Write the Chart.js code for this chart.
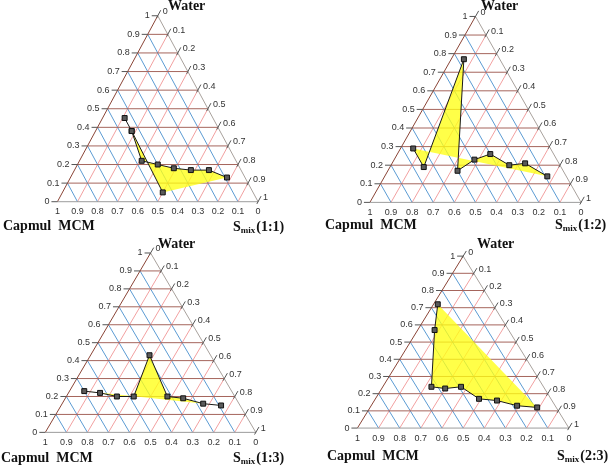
<html>
<head>
    <script src="https://cdn.jsdelivr.net/npm/chart.js"></script>
    <style>
        body { margin: 0; background: #fff; }
        #wrap { position: relative; width: 609px; height: 468px; }
        #wrap canvas { position: absolute; left: 0; top: 0; }
    </style>
</head>
<body>
<div id="wrap">
    <canvas id="c1" width="609" height="468"></canvas>
    <canvas id="c2" width="609" height="468"></canvas>
    <canvas id="c3" width="609" height="468"></canvas>
    <canvas id="c4" width="609" height="468"></canvas>
</div>
<script>
    // grid / tick values shared by the three sides of every triangle
    const tickValues = [0, 0.1, 0.2, 0.3, 0.4, 0.5, 0.6, 0.7, 0.8, 0.9, 1];
    const tickLabels = ['0', '0.1', '0.2', '0.3', '0.4', '0.5', '0.6', '0.7', '0.8', '0.9', '1'];

    // boundary points, mass fractions (Smix = 1 - water - capmul)
    const water1 = [0.45, 0.38, 0.22, 0.20, 0.18, 0.17, 0.17, 0.13, 0.05];
    const capmul1 = [0.44, 0.44, 0.47, 0.40, 0.33, 0.25, 0.16, 0.09, 0.45];

    const water2 = [0.29, 0.19, 0.77, 0.17, 0.23, 0.26, 0.20, 0.21, 0.14];
    const capmul2 = [0.65, 0.65, 0.17, 0.50, 0.39, 0.30, 0.24, 0.16, 0.09];

    const water3 = [0.23, 0.22, 0.20, 0.20, 0.43, 0.20, 0.19, 0.16, 0.15];
    const capmul3 = [0.70, 0.63, 0.56, 0.48, 0.29, 0.32, 0.25, 0.17, 0.09];

    const water4 = [0.72, 0.57, 0.24, 0.23, 0.24, 0.17, 0.16, 0.13, 0.12];
    const capmul4 = [0.26, 0.35, 0.53, 0.47, 0.39, 0.34, 0.26, 0.18, 0.09];

    const ratios = ['1:1', '1:2', '1:3', '2:3'];

    const all9 = [0, 1, 2, 3, 4, 5, 6, 7, 8];
    const panels = [
        { id: 'c1', water: water1, capmul: capmul1, ratio: ratios[0],
          lines: [[0, 1, 2, 3, 4, 5, 6, 7], [1, 8]], fill: [1, 2, 3, 4, 5, 6, 7, 8],
          box: { left: 53.3, width: 204, base: 201, height: 190 },
          waterAt: [168, 10], capmulAt: [3, 230], smixAt: [233, 231] },
        { id: 'c2', water: water2, capmul: capmul2, ratio: ratios[1],
          lines: [all9], fill: all9,
          box: { left: 371, width: 214.7, base: 201.7, height: 190 },
          waterAt: [481, 10], capmulAt: [325, 229], smixAt: [555, 229] },
        { id: 'c3', water: water3, capmul: capmul3, ratio: ratios[2],
          lines: [all9], fill: all9,
          box: { left: 41, width: 214, base: 436.7, height: 183.3 },
          waterAt: [158, 248], capmulAt: [1, 462], smixAt: [233, 462] },
        { id: 'c4', water: water4, capmul: capmul4, ratio: ratios[3],
          lines: [all9], fill: all9,
          box: { left: 358.3, width: 215, base: 432.3, height: 175.7 },
          waterAt: [477, 248], capmulAt: [327, 460], smixAt: [557, 460] },
    ];

    function toXY(p, i) {
        const w = p.water[i];
        const s = 1 - w - p.capmul[i];
        return { x: s + w / 2, y: w };
    }

    function framePlugin(p) {
        return {
            id: 'ternaryFrame',
            beforeDatasetsDraw(chart) {
                const ctx = chart.ctx;
                const pt = (s, w) => [chart.scales.x.getPixelForValue(s + w / 2), chart.scales.y.getPixelForValue(w)];
                const seg = (a, b, color) => {
                    ctx.strokeStyle = color;
                    ctx.beginPath();
                    ctx.moveTo(a[0], a[1]);
                    ctx.lineTo(b[0], b[1]);
                    ctx.stroke();
                };
                ctx.save();
                ctx.lineWidth = 1;
                const inner = tickValues.slice(1, -1);
                inner.forEach(v => {
                    seg(pt(v, 0), pt(v, 1 - v), '#f2a0a0');       // constant Smix
                    seg(pt(1 - v, 0), pt(0, 1 - v), '#5b9bd3');   // constant Capmul
                });
                inner.forEach(v => seg(pt(0, v), pt(1 - v, v), '#a5655c')); // constant water
                seg(pt(0, 0), pt(0, 1), '#8a4436');
                seg(pt(0, 1), pt(1, 0), '#a8a19c');
                seg(pt(0, 0), pt(1, 0), '#9c9c9c');
                tickValues.forEach(v => {
                    const l = pt(0, v);
                    seg([l[0] - 6, l[1]], l, '#555');
                    seg(pt(v, 1 - v - 0.012), pt(v, 1 - v + 0.03), '#555');
                });
                ctx.restore();
            },
            afterDatasetsDraw(chart) {
                const ctx = chart.ctx;
                const pt = (s, w) => [chart.scales.x.getPixelForValue(s + w / 2), chart.scales.y.getPixelForValue(w)];
                ctx.save();
                ctx.font = '9px "Liberation Sans", Arial, sans-serif';
                ctx.fillStyle = '#333';
                ctx.textBaseline = 'middle';
                tickValues.forEach((v, i) => {
                    const l = pt(0, v);
                    ctx.textAlign = 'right';
                    ctx.fillText(tickLabels[i], l[0] - 8, l[1]);
                    const r = pt(v, 1 - v);
                    ctx.textAlign = 'left';
                    ctx.fillText(tickLabels[i], r[0] + 5, r[1] - 4);
                    const b = pt(1 - v, 0);
                    ctx.textAlign = 'center';
                    ctx.fillText(tickLabels[i], b[0], b[1] + 10);
                });
                ctx.fillStyle = '#111';
                ctx.textAlign = 'left';
                ctx.textBaseline = 'alphabetic';
                ctx.font = 'bold 14px "Liberation Serif", serif';
                ctx.fillText('Water', p.waterAt[0], p.waterAt[1]);
                ctx.fillText('Capmul  MCM', p.capmulAt[0], p.capmulAt[1]);
                let [sx, sy] = p.smixAt;
                ctx.fillText('S', sx, sy);
                sx += ctx.measureText('S').width;
                ctx.font = 'bold 9px "Liberation Serif", serif';
                ctx.fillText('mix', sx, sy + 2);
                sx += ctx.measureText('mix').width + 1;
                ctx.font = 'bold 14px "Liberation Serif", serif';
                ctx.fillText('(' + p.ratio + ')', sx, sy);
                ctx.restore();
            }
        };
    }

    panels.forEach(p => {
        const b = p.box;
        const datasets = p.lines.map(path => ({
            data: path.map(i => toXY(p, i)),
            borderColor: '#1a1a1a',
            borderWidth: 1,
            fill: false,
            tension: 0,
            pointStyle: 'rect',
            pointRadius: 3.5,
            pointBackgroundColor: '#5a5a5a',
            pointBorderColor: '#111',
            pointBorderWidth: 1,
        }));
        datasets.push({
            data: p.fill.map(i => toXY(p, i)),
            borderWidth: 0,
            borderColor: 'rgba(0,0,0,0)',
            backgroundColor: 'rgba(255,255,20,0.78)',
            fill: 'shape',
            pointRadius: 0,
            tension: 0,
        });
        new Chart(document.getElementById(p.id), {
            type: 'line',
            data: { datasets },
            options: {
                responsive: false,
                animation: false,
                events: [],
                layout: { padding: 0 },
                plugins: { legend: { display: false }, tooltip: { enabled: false } },
                scales: {
                    x: { type: 'linear', display: false, min: -b.left / b.width, max: (609 - b.left) / b.width },
                    y: { type: 'linear', display: false, min: (b.base - 468) / b.height, max: b.base / b.height },
                },
            },
            plugins: [framePlugin(p)],
        });
    });
</script>
</body>
</html>
